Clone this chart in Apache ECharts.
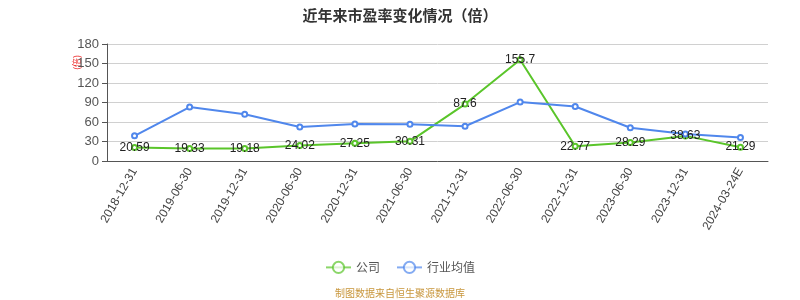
<!DOCTYPE html>
<html>
<head>
<meta charset="utf-8">
<script src="https://cdn.jsdelivr.net/npm/echarts@6/dist/echarts.min.js"></script>
<style>html,body{margin:0;padding:0;}#c{width:800px;height:300px;}</style>
</head>
<body>
<div id="c"></div>
<script>
var categories = ['2018-12-31','2019-06-30','2019-12-31','2020-06-30','2020-12-31','2021-06-30','2021-12-31','2022-06-30','2022-12-31','2023-06-30','2023-12-31','2024-03-24E'];
var companyPE = [20.59, 19.33, 19.18, 24.02, 27.25, 30.31, 87.6, 155.7, 22.77, 28.29, 38.63, 21.29];
var industryPE = [38.8, 82.9, 72.0, 52.3, 57.0, 56.5, 53.4, 90.7, 83.9, 51.2, 41.5, 36.3];
var yTicks = [0, 30, 60, 90, 120, 150, 180];

var chart = echarts.init(document.getElementById('c'));
chart.setOption({
  animation: false,
  title: {
    text: '近年来市盈率变化情况（倍）',
    left: 'center', top: 3,
    textStyle: {fontSize: 15, fontWeight: 'bold', color: '#333', fontFamily: 'Noto Sans CJK SC'}
  },
  grid: {left: 107, right: 32, top: 44, bottom: 139},
  legend: {
    bottom: 21, left: 'center',
    itemWidth: 25, itemHeight: 14, itemGap: 16,
    itemStyle: {opacity: 0.7},
    lineStyle: {opacity: 0.7},
    textStyle: {fontSize: 12, color: '#555', fontFamily: 'Noto Sans CJK SC'},
    data: ['公司', '行业均值']
  },
  graphic: [
    {type: 'text', left: 'center', top: 288,
     style: {text: '制图数据来自恒生聚源数据库', fill: '#c8963c', fontSize: 10, fontFamily: 'Noto Sans CJK SC'}},
    {type: 'text', x: 72, y: 70, rotation: Math.PI / 2,
     style: {text: '(倍)', fill: '#e33', fontSize: 9, fontFamily: 'Noto Sans CJK SC'}}
  ],
  xAxis: {
    type: 'category', data: categories, boundaryGap: true,
    axisLine: {lineStyle: {color: '#555'}},
    axisTick: {lineStyle: {color: '#555'}},
    axisLabel: {rotate: 60, color: '#444', fontSize: 12, interval: 0, margin: 8}
  },
  yAxis: {
    type: 'value', min: 0, max: 180, interval: 30,
    axisLine: {show: true, lineStyle: {color: '#555'}},
    axisTick: {show: true, lineStyle: {color: '#555'}},
    axisLabel: {color: '#555', fontSize: 13},
    splitLine: {lineStyle: {color: '#d0d0d0'}}
  },
  series: [
    {
      name: '公司', type: 'line', data: companyPE,
      symbol: 'emptyCircle', symbolSize: 5,
      itemStyle: {color: '#5ac52a'},
      lineStyle: {color: '#5ac52a', width: 2},
      label: {show: true, position: 'inside', color: '#222', fontSize: 12}
    },
    {
      name: '行业均值', type: 'line', data: industryPE,
      symbol: 'emptyCircle', symbolSize: 5,
      itemStyle: {color: '#5087ec'},
      lineStyle: {color: '#5087ec', width: 2}
    }
  ]
});
</script>
</body>
</html>
